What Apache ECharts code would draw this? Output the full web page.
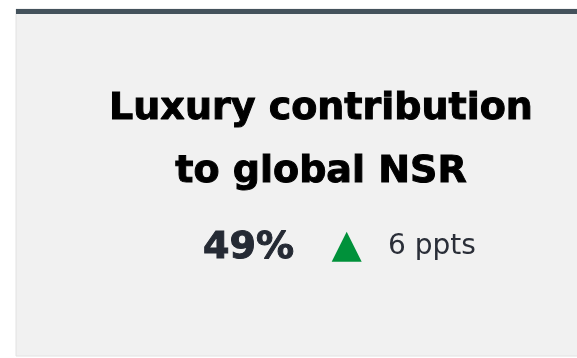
<!DOCTYPE html>
<html><head><meta charset="utf-8">
<script src="https://cdn.jsdelivr.net/npm/echarts@6/dist/echarts.min.js"></script>
<style>html,body{margin:0;padding:0;background:#fff;}#c{width:577px;height:358px;}</style>
</head><body><div id="c"></div>
<script>
const titleLines = ["Luxury contribution", "to global NSR"];
const kpiValue = [49];
const kpiChange = [6];
const changeUnit = "ppts";

const chart = echarts.init(document.getElementById('c'), null, {renderer: 'canvas'});
const FONT = '"DejaVu Sans", sans-serif';
chart.setOption({
  animation: false,
  graphic: [
    {type: 'rect', shape: {x: 16, y: 9, width: 600, height: 347}, style: {fill: '#f1f1f1', stroke: '#e2e2e2', lineWidth: 1}},
    {type: 'rect', shape: {x: 16, y: 9, width: 600, height: 5}, style: {fill: '#44525c'}},
    {type: 'text', x: 321, y: 109, style: {text: titleLines[0], font: 'bold 38px ' + FONT, fill: '#000', stroke: '#000', lineWidth: 1, align: 'center', verticalAlign: 'middle'}},
    {type: 'text', x: 321, y: 172, style: {text: titleLines[1], font: 'bold 38px ' + FONT, fill: '#000', stroke: '#000', lineWidth: 1, align: 'center', verticalAlign: 'middle'}},
    {type: 'text', x: 294, y: 248, style: {text: kpiValue[0] + '%', font: 'bold 38px ' + FONT, fill: '#252a34', stroke: '#252a34', lineWidth: 1, align: 'right', verticalAlign: 'middle'}},
    {type: 'polygon', shape: {points: [[346.7, 231.7], [361.7, 261.7], [331.7, 261.7]]}, style: {fill: kpiChange[0] >= 0 ? '#00913a' : '#c0392b'}},
    {type: 'text', x: 388, y: 247, style: {text: kpiChange[0] + ' ' + changeUnit, font: '400 28px ' + FONT, fill: '#2a2e38', align: 'left', verticalAlign: 'middle'}}
  ]
});
</script></body></html>
